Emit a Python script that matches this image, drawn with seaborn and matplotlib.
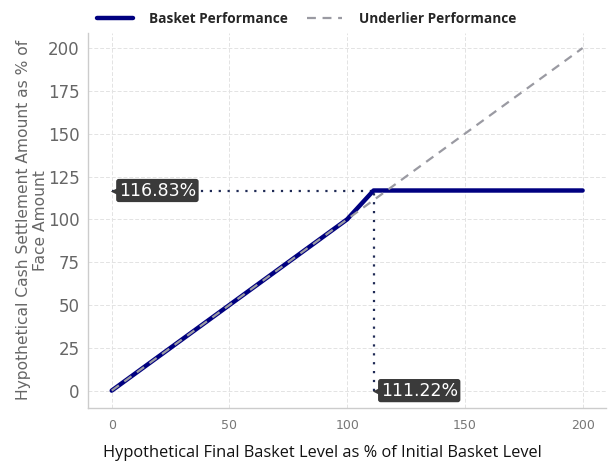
import matplotlib
matplotlib.use("Agg")
import matplotlib.pyplot as plt
import seaborn as sns
import pandas as pd

# payoff data
basket_x = [0, 100, 111.22, 200]
basket_y = [0, 100, 116.83, 116.83]
under_x = [0, 200]
under_y = [0, 200]
cap_x = 111.22
cap_y = 116.83
x_ticks = [0, 50, 100, 150, 200]
y_ticks = [0, 25, 50, 75, 100, 125, 150, 175, 200]

sns.set_theme(style="whitegrid")
plt.rcParams['font.family'] = ['DejaVu Sans']

basket = pd.DataFrame({'x': basket_x, 'y': basket_y})
under = pd.DataFrame({'x': under_x, 'y': under_y})

fig, ax = plt.subplots(figsize=(6.08, 4.66), dpi=100)
fig.subplots_adjust(left=0.145, right=0.997, top=0.93, bottom=0.125)

sns.lineplot(data=basket, x='x', y='y', ax=ax, color='#000080', linewidth=3.2,
             label='Basket Performance', zorder=3)
sns.lineplot(data=under, x='x', y='y', ax=ax, color='#9a9aa2', linewidth=1.6,
             linestyle=(0, (4, 3)), label='Underlier Performance', zorder=4)

# dotted guide lines to the cap point
ax.plot([0, cap_x], [cap_y, cap_y], color='#1f2a55', linestyle=(0, (1, 3)), linewidth=1.6, zorder=2)
ax.plot([cap_x, cap_x], [0, cap_y], color='#1f2a55', linestyle=(0, (1, 3)), linewidth=1.6, zorder=2)

# dark callout labels
for px, py, txt in [(0, cap_y, f'{cap_y:.2f}%'), (cap_x, 0, f'{cap_x:.2f}%')]:
    ax.scatter([px + 1.6], [py], marker='<', s=45, color='#3a3a3a', zorder=5, linewidths=0)
    ax.text(px + 3.0, py, txt, color='white', fontsize=12.5, ha='left', va='center', zorder=6,
            bbox=dict(boxstyle='round,pad=0.15,rounding_size=0.15', fc='#3a3a3a', ec='none'))

ax.set_xlim(-10, 210)
ax.set_ylim(-10, 209)
ax.set_xticks(x_ticks)
ax.set_yticks(y_ticks)
ax.tick_params(axis='x', labelsize=9, colors='#777777', length=0, pad=8)
ax.tick_params(axis='y', labelsize=12, colors='#666666', length=0, pad=6)
ax.grid(True, color='#e3e3e3', linestyle=(0, (4, 2)), linewidth=0.7)
for s in ['top', 'right']:
    ax.spines[s].set_visible(False)
for s in ['left', 'bottom']:
    ax.spines[s].set_color('#cccccc')
    ax.spines[s].set_linewidth(1)

ax.set_xlabel('Hypothetical Final Basket Level as % of Initial Basket Level',
              fontsize=11.8, color='#111111', family='Open Sans', labelpad=8)
ax.xaxis.set_label_coords(0.452, -0.098)
ax.set_ylabel('Hypothetical Cash Settlement Amount as % of\nFace Amount',
              fontsize=11.2, color='#666666', linespacing=1.15, labelpad=0)

leg = ax.legend(loc='lower center', bbox_to_anchor=(0.422, 1.0), ncol=2, frameon=False,
                prop={'family': 'Open Sans', 'weight': 'bold', 'size': 9.8},
                handlelength=2.6, handletextpad=1.2, columnspacing=1.4, borderaxespad=0.1)

plt.savefig('out.png', dpi=100)
